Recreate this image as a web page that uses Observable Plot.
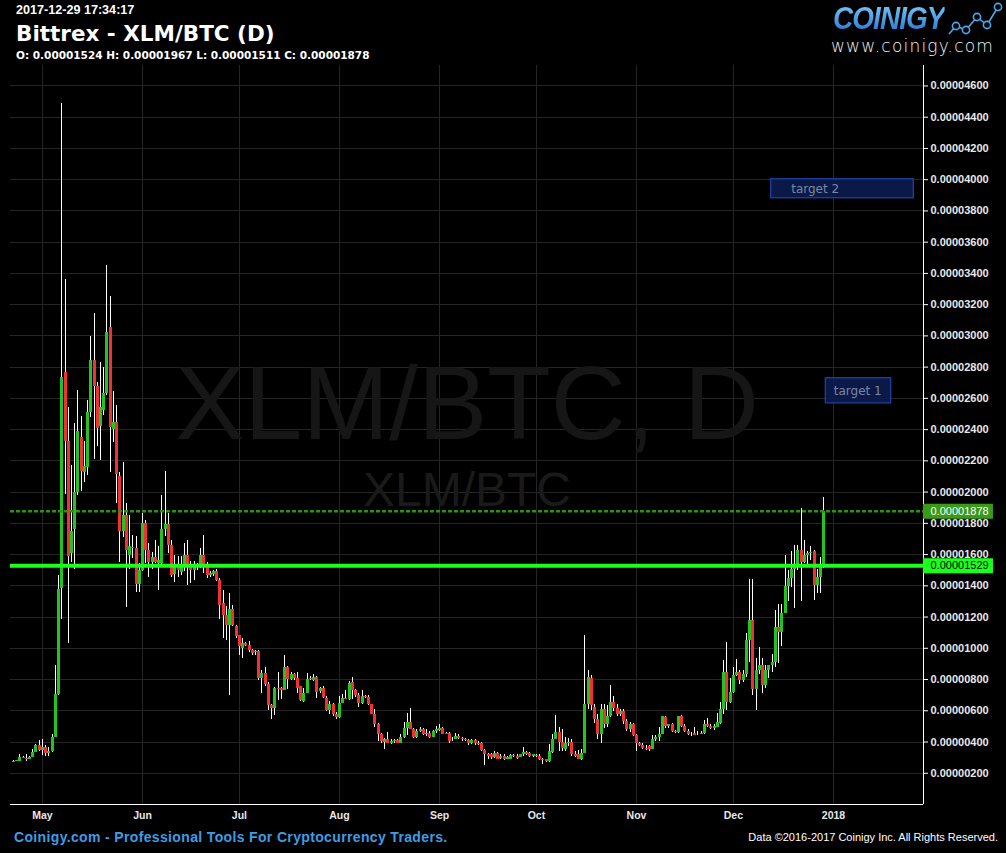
<!DOCTYPE html>
<html><head><meta charset="utf-8">
<script src="https://cdn.jsdelivr.net/npm/d3@7"></script>
<script src="https://cdn.jsdelivr.net/npm/@observablehq/plot@0.6"></script>
<style>
html,body{margin:0;padding:0;background:#000;}
body{width:1006px;height:853px;overflow:hidden;position:relative;font-family:"Liberation Sans",Arial,sans-serif;color:#fff;}
.abs{position:absolute;white-space:nowrap;line-height:1;}
#chart{position:absolute;left:0;top:65px;}
#logo{left:833px;top:1px;font:italic bold 31px "Liberation Sans",Arial,sans-serif;letter-spacing:-1px;transform:scaleX(0.9);transform-origin:left top;background:linear-gradient(#7fd0fc,#1b6cce);-webkit-background-clip:text;background-clip:text;color:transparent;}
</style></head><body>
<div class="abs" style="left:16px;top:4.4px;font-weight:bold;font-size:12.6px;">2017-12-29 17:34:17</div>
<div class="abs" style="left:16px;top:20.8px;font:bold 21.5px 'DejaVu Sans',Verdana,sans-serif;">Bittrex - XLM/BTC (D)</div>
<div class="abs" style="left:16px;top:49px;font:bold 10.5px 'DejaVu Sans',Verdana,sans-serif;">O: 0.00001524 H: 0.00001967 L: 0.00001511 C: 0.00001878</div>
<div class="abs" id="logo">COINIGY</div>
<svg class="abs" style="left:946px;top:0px" width="60" height="36" viewBox="946 0 60 36">
  <polyline points="949,34 956,26 966,30 977,17 987,25 998,7" fill="none" stroke="#4aa8ea" stroke-width="1.6"/>
  <g fill="#000" stroke="#4aa8ea" stroke-width="1.6">
    <circle cx="956" cy="26" r="3.6"/><circle cx="966" cy="30" r="3.6"/><circle cx="977" cy="17" r="3.6"/><circle cx="987" cy="25" r="3.6"/><circle cx="998" cy="7" r="3.6"/>
  </g>
</svg>
<div class="abs" style="left:831px;top:38px;font-family:'DejaVu Sans',sans-serif;font-weight:200;font-size:17px;letter-spacing:1.2px;color:#f2f2f2;">www.coinigy.com</div>
<div id="chart"></div>
<div class="abs" style="left:14px;top:830.2px;font-weight:bold;font-size:14px;letter-spacing:0.35px;color:#3e9de6;">Coinigy.com - Professional Tools For Cryptocurrency Traders.</div>
<div class="abs" style="right:8px;top:831.6px;font-size:11px;color:#fff;">Data ©2016-2017 Coinigy Inc. All Rights Reserved.</div>
<script>
// Daily candles, values in satoshi (1e-8 BTC): [open, high, low, close]
const firstDay = "2017-04-22";
const apr = [[272,282,270,278],[278,284,276,280],[276,317,274,302],[302,306,295,296],[296,317,278,289],[289,306,286,302],[300,349,298,336],[332,387,330,375],[375,408,340,344]];
const may = [[345,419,315,362],[362,375,306,328],[328,364,310,338],[338,445,335,432],[432,887,430,707],[707,1463,697,1378],[1380,4490,1186,2736],[2763,3358,1986,2325],[2325,2539,1028,1586],[1609,2173,1552,1750],[1762,2437,1506,1997],[1997,2649,1980,2390],[2347,2482,2002,2134],[2128,2322,2061,2162],[2155,2585,2107,2507],[2507,2999,2480,2843],[2843,3141,2210,2677],[2677,2700,2290,2409],[2421,2827,2201,2542],[2523,2798,2489,2633],[2633,3449,2620,3022],[3056,3250,2123,2416],[2398,2642,2318,2448],[2448,2553,1929,2112],[2100,2123,1552,1746],[1746,2187,1712,1849],[1849,1924,1261,1625],[1597,1849,1506,1654],[1643,1723,1574,1636],[1636,1716,1357,1409],[1409,1544,1356,1497]];
const jun = [[1497,1864,1490,1796],[1796,1815,1544,1623],[1623,1668,1454,1548],[1548,1614,1506,1582],[1582,1687,1540,1548],[1544,1651,1369,1561],[1544,1981,1538,1762],[1762,2129,1715,1794],[1794,1860,1608,1661],[1661,1693,1454,1465],[1474,1597,1420,1533],[1533,1590,1454,1495],[1486,1587,1469,1527],[1527,1672,1491,1597],[1597,1687,1401,1518],[1518,1555,1416,1495],[1501,1555,1437,1527],[1527,1540,1500,1518],[1518,1640,1510,1597],[1597,1719,1480,1518],[1518,1548,1448,1465],[1465,1490,1455,1476],[1470,1501,1457,1491],[1491,1505,1427,1437],[1437,1448,1185,1277],[1288,1367,1060,1213],[1213,1267,1053,1145],[1145,1348,695,1250],[1250,1271,1138,1143],[1138,1148,1064,1074]];
const jul = [[1079,1085,951,1010],[1000,1064,936,1028],[1028,1040,1010,1021],[1021,1043,972,985],[989,995,953,968],[972,983,957,978],[978,985,797,806],[806,861,712,840],[840,878,754,769],[769,782,601,633],[633,640,541,616],[616,750,567,744],[744,844,665,737],[744,750,673,733],[733,957,729,878],[878,882,737,801],[801,844,793,833],[833,839,797,804],[804,846,712,744],[754,758,658,665],[658,744,655,712],[712,839,708,801],[808,818,797,801],[793,833,786,814],[814,818,680,718],[722,750,712,744],[744,754,680,684],[680,690,595,601],[601,658,573,637],[637,648,562,573],[579,588,545,556]];
const aug = [[556,690,552,648],[648,707,645,680],[680,733,670,673],[673,786,665,776],[782,814,673,729],[733,737,686,701],[701,712,622,648],[648,733,637,690],[690,695,680,686],[686,695,631,637],[637,640,573,579],[579,609,494,509],[513,520,402,445],[445,456,392,402],[396,424,353,413],[413,460,388,392],[392,413,381,402],[402,419,392,407],[407,413,388,392],[392,451,388,430],[430,524,424,488],[488,584,439,526],[526,616,477,481],[481,488,424,428],[428,481,421,466],[466,490,460,481],[481,488,439,445],[445,481,434,456],[456,466,424,430],[430,473,426,466],[466,502,456,477]];
const sep = [[473,509,466,485],[485,494,445,451],[456,460,445,449],[456,460,392,402],[413,430,402,419],[419,456,417,434],[438,445,413,424],[424,428,402,413],[417,424,402,407],[409,417,375,388],[392,417,381,409],[409,417,375,392],[392,402,375,381],[392,396,338,343],[343,350,249,321],[321,325,289,310],[317,328,289,302],[302,342,296,328],[328,332,285,289],[296,317,289,310],[310,317,281,289],[289,308,285,302],[289,317,285,313],[313,317,302,306],[310,321,289,296],[302,321,298,317],[317,364,310,334],[334,342,315,321],[328,332,302,306],[306,321,300,317]];
const oct = [[313,317,302,306],[306,317,281,289],[289,294,259,279],[285,290,270,274],[274,387,270,338],[332,445,328,417],[417,567,413,462],[462,494,342,398],[398,481,338,356],[355,428,338,392],[392,424,370,400],[400,413,310,317],[319,338,298,306],[317,345,285,289],[289,350,281,328],[328,1079,325,637],[637,855,605,814],[807,823,600,631],[624,643,516,541],[541,573,417,445],[445,643,392,611],[611,637,488,511],[509,631,494,564],[564,765,560,654],[654,692,595,616],[616,643,562,579],[579,609,562,594],[594,605,515,530],[530,541,470,477],[477,525,460,510],[510,520,435,441]];
const nov = [[441,450,340,392],[392,398,370,375],[375,390,355,360],[360,375,345,350],[371,380,340,354],[354,440,350,413],[413,440,405,430],[430,490,405,447],[447,565,445,562],[560,565,485,502],[500,515,485,510],[510,520,460,466],[466,475,455,460],[460,565,455,562],[562,568,490,498],[498,510,460,466],[466,480,440,445],[445,460,435,450],[456,490,440,443],[445,470,440,450],[450,465,445,455],[456,535,450,513],[513,550,495,500],[502,510,480,488],[488,510,475,502],[496,580,490,522],[520,652,510,609],[609,925,573,846],[846,1038,600,652],[652,808,648,718]];
const dec = [[718,878,712,829],[829,929,820,846],[846,860,769,793],[793,855,780,833],[833,1096,814,1047],[1047,1443,908,1181],[1181,1443,701,739],[739,936,601,855],[855,1006,833,893],[893,936,712,761],[761,893,744,857],[857,893,808,887],[887,963,844,908],[908,1245,876,1132],[1132,1283,904,1100],[1100,1283,1010,1224],[1224,1597,1220,1394],[1394,1497,1299,1448],[1448,1619,1390,1506],[1506,1655,1256,1527],[1527,1661,1500,1629],[1629,1892,1299,1548],[1548,1693,1540,1591],[1591,1618,1518,1604],[1604,1651,1560,1612],[1618,1625,1305,1405],[1405,1506,1352,1454],[1454,1582,1348,1518],[1524,1967,1511,1878]];

// Tick values / labels
const yTickSat = [200,400,600,800,1000,1200,1400,1600,1800,2000,2200,2400,2600,2800,3000,3200,3400,3600,3800,4000,4200,4400,4600];
const monthTicks = ["2017-05-01","2017-06-01","2017-07-01","2017-08-01","2017-09-01","2017-10-01","2017-11-01","2017-12-01","2018-01-01"];
const monthLabels = ["May","Jun","Jul","Aug","Sep","Oct","Nov","Dec","2018"];

// Horizontal price levels (satoshi): last close, support line
const levelNames = ["last", "support"];
const levelValues = [1878, 1529];

// Target annotations
const targetLabels = ["target 2", "target 1"];
const targetLow = [3881, 2568];
const targetHigh = [4003, 2729];
const targetStart = ["2017-12-12T16:50Z", "2017-12-29T14:38Z"];
const targetEnd = ["2018-01-25T20:53Z", "2018-01-18T20:53Z"];

const watermark = ["XLM/BTC, D", "XLM/BTC"];

// Build tables
const S = 1e-8;
const rows = [...apr, ...may, ...jun, ...jul, ...aug, ...sep, ...oct, ...nov, ...dec];
const t0 = new Date(firstDay + "T00:00Z");
const candles = rows.map((r, i) => ({date: d3.utcDay.offset(t0, i), open: r[0]*S, high: r[1]*S, low: r[2]*S, close: r[3]*S}));
const yTicks = yTickSat.map(v => v*S);
const monthDates = monthTicks.map(s => new Date(s + "T00:00Z"));
const monthLabelOf = new Map(monthDates.map((d, i) => [+d, monthLabels[i]]));
const levels = levelNames.map((n, i) => ({name: n, v: levelValues[i]*S}));
const targets = targetLabels.map((l, i) => ({label: l, low: targetLow[i]*S, high: targetHigh[i]*S, start: new Date(targetStart[i]), end: new Date(targetEnd[i])}));

const xDomain = [new Date("2017-04-21T02:54Z"), new Date("2018-01-28T20:53Z")];
const labelEdge = new Date("2018-02-19T13:00Z");
const up = d => d.close >= d.open;
const targetText = {fill: "#7b87a3", fontSize: 12, fontFamily: "'DejaVu Sans', Verdana, sans-serif", textAnchor: "start"};

const chart = Plot.plot({
  width: 1006, height: 760,
  marginLeft: 10, marginRight: 83, marginTop: 0, marginBottom: 21,
  style: {background: "#000", color: "#fff", fontFamily: "'Liberation Sans', Arial, sans-serif", overflow: "visible"},
  x: {type: "utc", domain: xDomain},
  y: {domain: [0, 47.31e-6]},
  marks: [
    Plot.ruleY(yTicks, {stroke: "#252525", shapeRendering: "crispEdges"}),
    Plot.ruleX(monthDates, {stroke: "#252525", shapeRendering: "crispEdges"}),
    Plot.text([watermark[0]], {text: d => d, frameAnchor: "middle", dy: -29, fontSize: 104, fill: "#161616"}),
    Plot.text([watermark[1]], {text: d => d, frameAnchor: "middle", dy: 56, fontSize: 48, fill: "#1a1a1a"}),
    Plot.rect(targets, {x1: "start", x2: "end", y1: "low", y2: "high", fill: "#0b1c50", fillOpacity: 0.9, stroke: "#2243a8", strokeWidth: 1.2}),
    Plot.text(targets.filter(d => d.label === "target 2"), {x: "start", y: d => (d.low + d.high)/2, text: "label", dx: 20, ...targetText}),
    Plot.text(targets.filter(d => d.label === "target 1"), {x: "start", y: d => (d.low + d.high)/2, text: "label", dx: 8, ...targetText}),
    Plot.ruleX(candles, {x: "date", y1: "low", y2: "high", stroke: "#ffffff", strokeWidth: 1, shapeRendering: "crispEdges"}),
    Plot.ruleX(candles, {x: "date", y1: "open", y2: "close", stroke: d => up(d) ? "#21c421" : "#f23232", strokeWidth: 3, shapeRendering: "crispEdges"}),
    Plot.ruleY(levels.filter(d => d.name === "support"), {y: "v", stroke: "#1cff1c", strokeWidth: 4}),
    Plot.ruleY(levels.filter(d => d.name === "last"), {y: "v", stroke: "#2f9010", strokeWidth: 2.5, strokeDasharray: "4,2"}),
    Plot.ruleY([0], {stroke: "#fff"}),
    Plot.ruleX([xDomain[1]], {stroke: "#fff"}),
    Plot.axisX(monthDates, {tickSize: 0, tickPadding: 7.5, tickFormat: d => monthLabelOf.get(+d), fontSize: 10.5, fontWeight: "bold", fill: "#e8e8e8", label: null}),
    Plot.axisY(yTicks, {anchor: "right", tickSize: 4, tickPadding: 3, tickFormat: d => d.toFixed(8), fontSize: 11, fontWeight: "bold", fill: "#e8e8e8", label: null}),
    Plot.ruleY(levels, {y: "v", x1: () => xDomain[1], x2: () => labelEdge, stroke: d => d.name === "last" ? "#3a9a1a" : "#19ff19", strokeWidth: 15}),
    Plot.text(levels, {y: "v", x: () => xDomain[1], dx: 7, textAnchor: "start", text: d => d.v.toFixed(8), fill: d => d.name === "last" ? "#fff" : "#000", fontWeight: d => d.name === "last" ? "bold" : "normal", fontSize: 11})
  ]
});
document.getElementById("chart").appendChild(chart);
</script>
</body></html>
